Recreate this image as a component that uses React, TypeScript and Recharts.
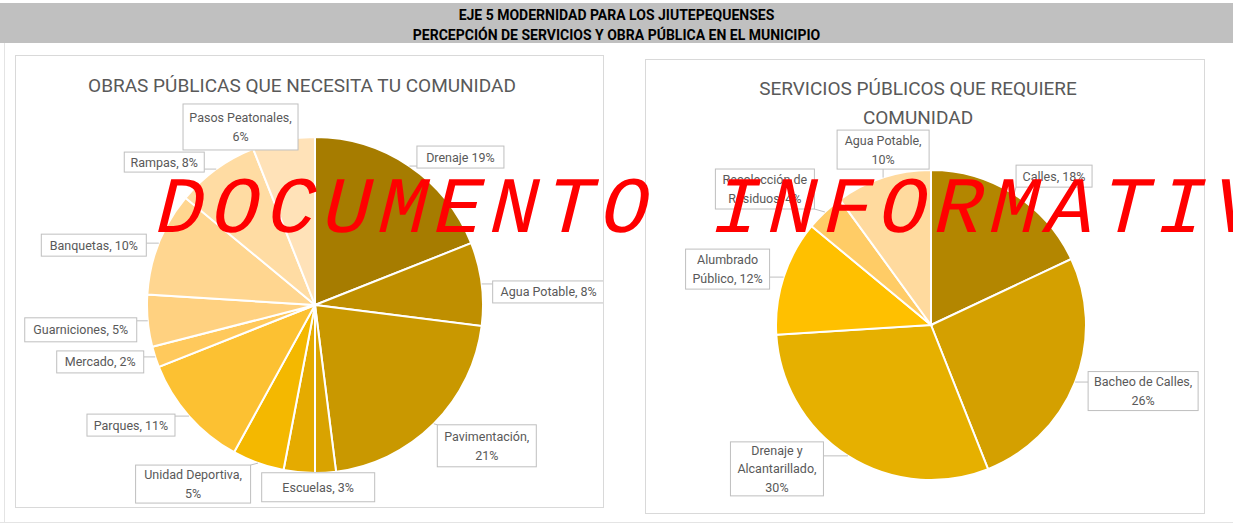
import { PieChart, Pie, Cell } from 'recharts';

// Obras públicas (left pie), clockwise from 12 o'clock
const OBRAS_NAMES = [
  'Drenaje',
  'Agua Potable',
  'Pavimentación',
  'Otros',
  'Escuelas',
  'Unidad Deportiva',
  'Parques',
  'Mercado',
  'Guarniciones',
  'Banquetas',
  'Rampas',
  'Pasos Peatonales',
];
const OBRAS_VALUES = [19, 8, 21, 2, 3, 5, 11, 2, 5, 10, 8, 6];
const OBRAS_LABELS = [
  ['Drenaje 19%'],
  ['Agua Potable, 8%'],
  ['Pavimentación,', '21%'],
  [],
  ['Escuelas, 3%'],
  ['Unidad Deportiva,', '5%'],
  ['Parques, 11%'],
  ['Mercado, 2%'],
  ['Guarniciones, 5%'],
  ['Banquetas, 10%'],
  ['Rampas, 8%'],
  ['Pasos Peatonales,', '6%'],
];

// Servicios públicos (right pie)
const SERVICIOS_NAMES = [
  'Calles',
  'Bacheo de Calles',
  'Drenaje y Alcantarillado',
  'Alumbrado Público',
  'Recolección de Residuos',
  'Agua Potable',
];
const SERVICIOS_VALUES = [18, 26, 30, 12, 4, 10];
const SERVICIOS_LABELS = [
  ['Calles, 18%'],
  ['Bacheo de Calles,', '26%'],
  ['Drenaje y', 'Alcantarillado,', '30%'],
  ['Alumbrado', 'Público, 12%'],
  ['Recolección de', 'Residuos, 4%'],
  ['Agua Potable,', '10%'],
];

const OBRAS_COLORS = [
  '#A67C00', '#BF8F00', '#C99800', '#D9A300', '#E5AB00', '#F4B800',
  '#FCC132', '#FFC95C', '#FFD180', '#FFD690', '#FFDCA3', '#FFE2B8',
];
const SERVICIOS_COLORS = ['#B38600', '#D4A000', '#E6B000', '#FFC000', '#FFCC66', '#FFDA9E'];

// callout boxes: width, height, offset of box centre from the slice edge point
const OBRAS_BOXES = [
  { w: 87, h: 22, dx: 51, dy: -9 },
  { w: 112, h: 22, dx: 67, dy: 8 },
  { w: 99, h: 42, dx: 53, dy: 22 },
  null,
  { w: 113, h: 29, dx: 19, dy: 15 },
  { w: 115, h: 38, dx: -65, dy: 21 },
  { w: 88, h: 22, dx: -58, dy: 9 },
  { w: 87, h: 22, dx: -55, dy: 5 },
  { w: 112, h: 24, dx: -67, dy: 9 },
  { w: 105, h: 22, dx: -65, dy: 2 },
  { w: 80, h: 20, dx: -52, dy: -7 },
  { w: 115, h: 46, dx: -43, dy: -13 },
];
const SERVICIOS_BOXES = [
  { w: 76, h: 22, dx: 40, dy: -18 },
  { w: 110, h: 39, dx: 68, dy: 9 },
  { w: 93, h: 54, dx: -71, dy: 13 },
  { w: 84, h: 40, dx: -56, dy: -8 },
  { w: 99, h: 40, dx: -60, dy: -23 },
  { w: 92, h: 39, dx: 0, dy: -28 },
];

const FONT = "'Liberation Sans Narrow', 'Roboto', sans-serif";
const RAD = Math.PI / 180;

const obrasData = OBRAS_NAMES.map((name, i) => ({ name, value: OBRAS_VALUES[i] }));
const serviciosData = SERVICIOS_NAMES.map((name, i) => ({ name, value: SERVICIOS_VALUES[i] }));

function makeLabel(lines: string[][], boxes: any[]) {
  return (props: any) => {
    const { cx, cy, midAngle, outerRadius, index } = props;
    const box = boxes[index];
    const txt = lines[index];
    if (!box || !txt || txt.length === 0) return null;
    const ex = cx + outerRadius * Math.cos(-midAngle * RAD);
    const ey = cy + outerRadius * Math.sin(-midAngle * RAD);
    const bx = ex + box.dx - box.w / 2;
    const by = ey + box.dy - box.h / 2;
    const nx = Math.min(Math.max(ex, bx), bx + box.w);
    const ny = Math.min(Math.max(ey, by), by + box.h);
    const lh = txt.length === 1 ? 0 : Math.min(19, (box.h - 4) / txt.length + 2);
    const y0 = by + box.h / 2 - (lh * (txt.length - 1)) / 2;
    return (
      <g key={`lbl-${index}`}>
        {Math.hypot(nx - ex, ny - ey) > 3 && (
          <line x1={ex} y1={ey} x2={nx} y2={ny} stroke="#BFBFBF" strokeWidth={1} />
        )}
        <rect x={bx} y={by} width={box.w} height={box.h} fill="#fff" stroke="#BFBFBF" strokeWidth={1} />
        {txt.map((t, k) => (
          <text
            key={k}
            x={bx + box.w / 2}
            y={y0 + k * lh}
            textAnchor="middle"
            dominantBaseline="central"
            fontFamily={FONT}
            fontSize={12.5}
            fill="#595959"
          >
            {t}
          </text>
        ))}
      </g>
    );
  };
}

export default function App() {
  return (
    <div
      style={{
        position: 'absolute',
        left: 0,
        top: 0,
        width: 1233,
        height: 524,
        background: '#fff',
        overflow: 'hidden',
        fontFamily: FONT,
      }}
    >
      <div
        style={{
          position: 'absolute',
          left: 0,
          top: 3,
          width: 1233,
          height: 40,
          paddingTop: 2,
          boxSizing: 'border-box',
          background: '#C0C0C0',
          textAlign: 'center',
          fontWeight: 700,
          fontSize: 14,
          lineHeight: '20px',
          color: '#000',
        }}
      >
        <div>EJE 5 MODERNIDAD PARA LOS JIUTEPEQUENSES</div>
        <div>PERCEPCIÓN DE SERVICIOS Y OBRA PÚBLICA EN EL MUNICIPIO</div>
      </div>

      <div style={{ position: 'absolute', left: 4, top: 43, width: 1, height: 479, background: '#E4E4E4' }} />
      <div style={{ position: 'absolute', left: 0, top: 522, width: 1233, height: 1, background: '#E4E4E4' }} />

      {/* left chart */}
      <div
        style={{
          position: 'absolute',
          left: 15,
          top: 55,
          width: 589,
          height: 453,
          border: '1px solid #D9D9D9',
          boxSizing: 'border-box',
        }}
      >
        <div
          style={{
            position: 'absolute',
            left: 0,
            top: 18,
            width: 572,
            textAlign: 'center',
            fontSize: 19,
            color: '#595959',
          }}
        >
          OBRAS PÚBLICAS QUE NECESITA TU COMUNIDAD
        </div>
        <PieChart width={587} height={451} style={{ position: 'absolute', left: 0, top: 0 }}>
          <Pie
            data={obrasData}
            dataKey="value"
            nameKey="name"
            cx={294}
            cy={244}
            outerRadius={168}
            startAngle={90}
            endAngle={-270}
            stroke="#fff"
            strokeWidth={2}
            labelLine={false}
            label={makeLabel(OBRAS_LABELS, OBRAS_BOXES)}
            isAnimationActive={false}
          >
            {obrasData.map((d, i) => (
              <Cell key={d.name} fill={OBRAS_COLORS[i]} />
            ))}
          </Pie>
        </PieChart>
      </div>

      {/* right chart */}
      <div
        style={{
          position: 'absolute',
          left: 645,
          top: 59,
          width: 560,
          height: 455,
          border: '1px solid #D9D9D9',
          boxSizing: 'border-box',
        }}
      >
        <div
          style={{
            position: 'absolute',
            left: 0,
            top: 14,
            width: 544,
            textAlign: 'center',
            fontSize: 19,
            lineHeight: '29px',
            color: '#595959',
          }}
        >
          <div>SERVICIOS PÚBLICOS QUE REQUIERE</div>
          <div>COMUNIDAD</div>
        </div>
        <PieChart width={558} height={453} style={{ position: 'absolute', left: 0, top: 0 }}>
          <Pie
            data={serviciosData}
            dataKey="value"
            nameKey="name"
            cx={280}
            cy={260}
            outerRadius={155}
            startAngle={90}
            endAngle={-270}
            stroke="#fff"
            strokeWidth={2}
            labelLine={false}
            label={makeLabel(SERVICIOS_LABELS, SERVICIOS_BOXES)}
            isAnimationActive={false}
          >
            {serviciosData.map((d, i) => (
              <Cell key={d.name} fill={SERVICIOS_COLORS[i]} />
            ))}
          </Pie>
        </PieChart>
      </div>

      <div
        style={{
          position: 'absolute',
          left: 150,
          top: 161,
          whiteSpace: 'nowrap',
          fontFamily: "'Liberation Mono', 'DejaVu Sans Mono', monospace",
          fontSize: 80,
          letterSpacing: 7.6,
          lineHeight: '100px',
          color: '#FF0000',
          transform: 'skewX(-14deg)',
          transformOrigin: '0 78px',
          pointerEvents: 'none',
        }}
      >
        DOCUMENTO INFORMATIVO
      </div>
    </div>
  );
}
